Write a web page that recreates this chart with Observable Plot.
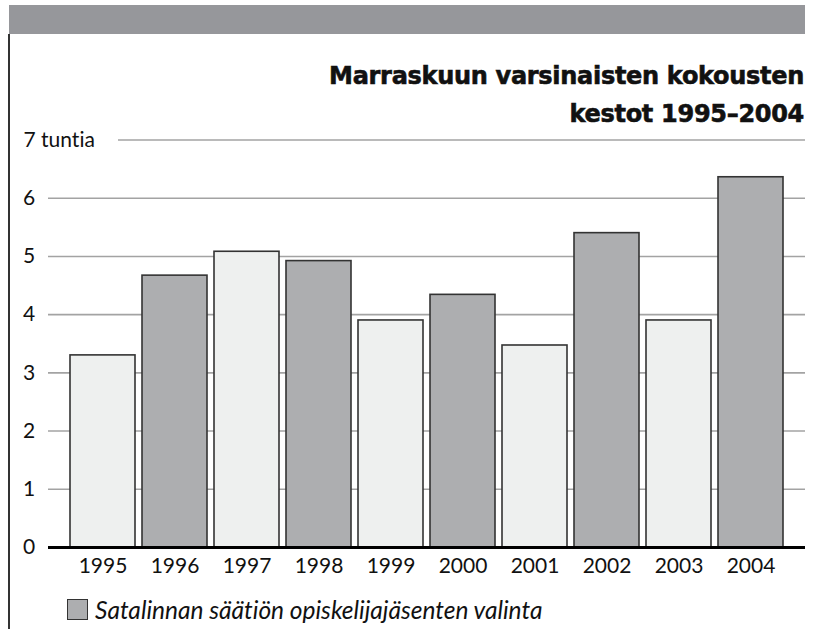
<!DOCTYPE html>
<html>
<head>
<meta charset="utf-8">
<script src="https://cdn.jsdelivr.net/npm/d3@7"></script>
<script src="https://cdn.jsdelivr.net/npm/@observablehq/plot@0.6"></script>
<style>
  html, body { margin: 0; padding: 0; background: #fff; }
  #wrap { position: relative; width: 821px; height: 629px; overflow: hidden; font-family: Lato, "Open Sans", sans-serif; font-variant-ligatures: none; }
  #banner { position: absolute; left: 9px; top: 5px; width: 796px; height: 29px; background: #96979b; }
  #leftline { position: absolute; left: 8px; top: 34px; width: 2px; height: 600px; background: #333; }
  #title { position: absolute; right: 17px; top: 57px; text-align: right; font-family: "DejaVu Sans", "Liberation Sans", sans-serif; font-weight: bold; font-size: 24px; line-height: 38px; color: #111; letter-spacing: -0.3px; -webkit-text-stroke: 0.6px #111; }
  #chart { position: absolute; left: 0; top: 120px; }
  #chart svg text { font-variant-ligatures: none; }
  #legend { position: absolute; left: 67px; top: 595px; display: flex; align-items: center; font-style: italic; font-size: 24.5px; color: #111; }
  #legend .sw { width: 19px; height: 19px; background: #adaeb0; border: 1px solid #333; margin-right: 7px; }
</style>
</head>
<body>
<div id="wrap">
  <div id="banner"></div>
  <div id="leftline"></div>
  <div id="title">Marraskuun varsinaisten kokousten<br>kestot 1995–2004</div>
  <div id="chart"></div>
  <div id="legend"><div class="sw"></div><span id="legendText"></span></div>
</div>
<script>
const years = ["1995","1996","1997","1998","1999","2000","2001","2002","2003","2004"];
const hours = [3.30, 4.67, 5.08, 4.92, 3.90, 4.34, 3.47, 5.40, 3.90, 6.36];
const electionYear = [false, true, false, true, false, true, false, true, false, true];
const yTicks = [0, 1, 2, 3, 4, 5, 6];
const yTopTick = [7];
const yTopLabel = "7 tuntia";
const legendLabel = "Satalinnan säätiön opiskelijajäsenten valinta";

document.getElementById("legendText").textContent = legendLabel;

const data = years.map((y, i) => ({year: y, hours: hours[i], elected: electionYear[i]}));

const chart = Plot.plot({
  width: 821,
  height: 470,
  marginLeft: 48,
  marginRight: 16,
  marginTop: 19,
  marginBottom: 43,
  style: {fontFamily: "Lato, 'Open Sans', sans-serif", fontSize: "21px", background: "transparent", color: "#111"},
  x: {type: "band", domain: years, range: [62.4, 789.6], paddingInner: 0.1, paddingOuter: 0.05, label: null},
  y: {domain: [0, 7], range: [427, 19.5], label: null},
  color: {domain: [false, true], range: ["#eef0ef", "#adaeb0"]},
  marks: [
    Plot.ruleY(yTicks.filter(d => d > 0), {stroke: "#a3a3a3", strokeWidth: 1.6}),
    Plot.ruleY(yTopTick, {stroke: "#a3a3a3", strokeWidth: 1.6, insetLeft: 70}),
    Plot.barY(data, {x: "year", y: "hours", fill: "elected", stroke: "#333", strokeWidth: 1.6}),
    Plot.ruleY([0], {stroke: "#000", strokeWidth: 3}),
    Plot.axisY(yTicks, {tickSize: 0, tickPadding: 0, textAnchor: "middle", dx: -19.5, tickFormat: d => String(d), label: null}),
    Plot.axisY(yTopTick, {tickSize: 0, tickPadding: 0, textAnchor: "start", dx: -25, tickFormat: () => yTopLabel, label: null}),
    Plot.axisX({tickSize: 0, tickPadding: 11, label: null})
  ]
});
document.getElementById("chart").appendChild(chart);
</script>
</body>
</html>
